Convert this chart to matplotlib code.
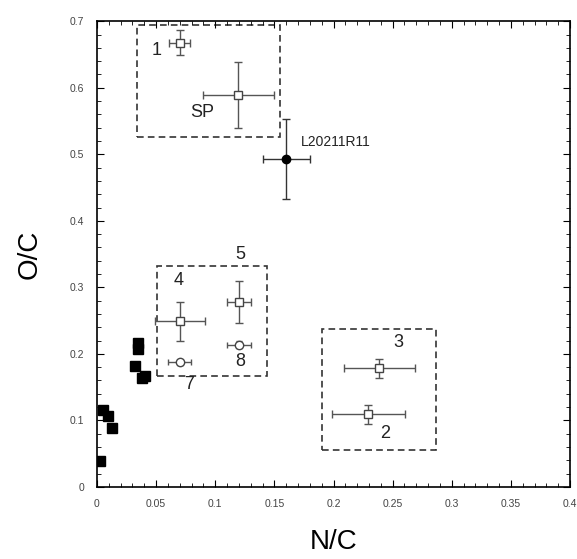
import matplotlib
matplotlib.use('Agg')
import matplotlib.pyplot as plt
from matplotlib.patches import Rectangle
from matplotlib.ticker import MultipleLocator

plt.rcParams['font.family'] = ['Liberation Sans', 'DejaVu Sans']

# filled squares (no error bars)
sq_x = [0.003, 0.0053, 0.0096, 0.0124, 0.032, 0.035, 0.035, 0.0378, 0.0406]
sq_y = [0.0395, 0.116, 0.106, 0.088, 0.181, 0.216, 0.208, 0.163, 0.166]

# open squares with error bars: 1, SP, 4, 5, 3, 2
osq_x = [0.070, 0.1195, 0.070, 0.120, 0.2388, 0.2295]
osq_y = [0.668, 0.589, 0.249, 0.278, 0.178, 0.109]
osq_xerr = [0.009, 0.030, 0.021, 0.010, 0.030, 0.031]
osq_yerr = [0.019, 0.050, 0.029, 0.031, 0.014, 0.014]

# open circles: 7, 8
oc_x = [0.070, 0.120]
oc_y = [0.187, 0.214]
oc_xerr = [0.0095, 0.010]
oc_yerr = [0.004, 0.005]

# L20211R11
l_x, l_y, l_xerr, l_yerr = 0.160, 0.493, 0.020, 0.060

# dashed boxes (x0, y0, x1, y1)
boxes = [(0.0335, 0.526, 0.155, 0.694),
         (0.0505, 0.167, 0.1435, 0.332),
         (0.190, 0.0556, 0.287, 0.238)]

labels = [('1', 0.046, 0.649), ('SP', 0.079, 0.556), ('4', 0.065, 0.303),
          ('5', 0.117, 0.342), ('8', 0.117, 0.181), ('7', 0.074, 0.147),
          ('3', 0.251, 0.211), ('2', 0.239, 0.073)]

fig = plt.figure(figsize=(5.77, 5.59), dpi=100)
ax = fig.add_axes([0.168, 0.129, 0.820, 0.833])

ax.plot(sq_x, sq_y, 's', color='black', ms=6.5, ls='none')
ax.errorbar(osq_x, osq_y, xerr=osq_xerr, yerr=osq_yerr, fmt='s', ms=6,
            mfc='white', mec='#444444', ecolor='#555555', elinewidth=1, capsize=3)
ax.errorbar(oc_x, oc_y, xerr=oc_xerr, yerr=oc_yerr, fmt='o', ms=6,
            mfc='white', mec='#444444', ecolor='#555555', elinewidth=1, capsize=2)
ax.errorbar([l_x], [l_y], xerr=[l_xerr], yerr=[l_yerr], fmt='o', ms=6,
            color='black', ecolor='#333333', elinewidth=1, capsize=3)

for x0, y0, x1, y1 in boxes:
    ax.add_patch(Rectangle((x0, y0), x1 - x0, y1 - y0, fill=False,
                           ls=(0, (4, 2.5)), lw=1.2, ec='#333333'))

for t, x, y in labels:
    ax.text(x, y, t, fontsize=13, color='#222222')
ax.text(0.1725, 0.518, 'L20211R11', fontsize=10, color='#222222', va='center')

ax.set_xlim(0, 0.4)
ax.set_ylim(0, 0.7)
ax.xaxis.set_major_locator(MultipleLocator(0.05))
ax.xaxis.set_minor_locator(MultipleLocator(0.01))
ax.yaxis.set_major_locator(MultipleLocator(0.1))
ax.yaxis.set_minor_locator(MultipleLocator(0.02))
ax.set_xticks([0, 0.05, 0.1, 0.15, 0.2, 0.25, 0.3, 0.35, 0.4])
ax.set_xticklabels(['0', '0.05', '0.1', '0.15', '0.2', '0.25', '0.3', '0.35', '0.4'])
ax.set_yticks([0, 0.1, 0.2, 0.3, 0.4, 0.5, 0.6, 0.7])
ax.set_yticklabels(['0', '0.1', '0.2', '0.3', '0.4', '0.5', '0.6', '0.7'])
ax.tick_params(which='both', direction='in', top=True, right=True,
               labelsize=7.5, labelcolor='#444444', pad=9)
ax.tick_params(which='major', length=5)
ax.tick_params(which='minor', length=3)
for s in ax.spines.values():
    s.set_linewidth(1.2)

ax.set_xlabel('N/C', fontsize=20, labelpad=14)
ax.set_ylabel('O/C', fontsize=20, labelpad=20)

fig.savefig('out.png', dpi=100)
